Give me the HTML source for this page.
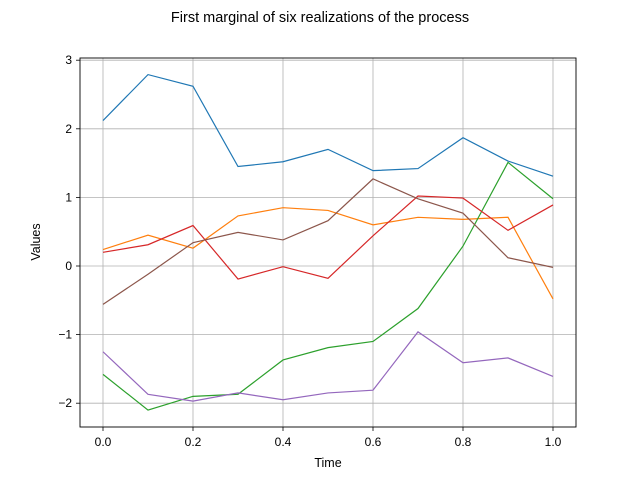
<!DOCTYPE html>
<html><head><meta charset="utf-8"><style>body{margin:0;background:#fff}svg{display:block;font-family:"Liberation Sans",sans-serif}</style></head>
<body>
<svg id="chart" width="640" height="480">
<text x="320" y="22" text-anchor="middle" font-size="14.5">First marginal of six realizations of the process</text>
<g id="grid"></g>
<g id="series"></g>
<rect x="80" y="58" width="496" height="369" fill="none" stroke="#000" stroke-width="0.9"/>
<g id="ticks" font-size="12"></g>
<text x="328" y="467" text-anchor="middle" font-size="12.5">Time</text>
<text x="40" y="242" text-anchor="middle" font-size="12.5" transform="rotate(-90 40 242)">Values</text>
</svg>
<script>
const times=[0,0.1,0.2,0.3,0.4,0.5,0.6,0.7,0.8,0.9,1.0];
const xTicks=[0,0.2,0.4,0.6,0.8,1.0];
const xTickLabels=["0.0","0.2","0.4","0.6","0.8","1.0"];
const yTicks=[-2,-1,0,1,2,3];
const yTickLabels=["\u22122","\u22121","0","1","2","3"];
const s1=[2.12,2.79,2.62,1.45,1.52,1.70,1.39,1.42,1.87,1.53,1.31];
const s2=[0.24,0.45,0.26,0.73,0.85,0.81,0.60,0.71,0.68,0.71,-0.48];
const s3=[-1.58,-2.10,-1.90,-1.87,-1.37,-1.19,-1.10,-0.62,0.29,1.51,0.98];
const s4=[0.20,0.31,0.59,-0.19,-0.01,-0.18,0.44,1.02,0.99,0.52,0.89];
const s5=[-1.25,-1.87,-1.97,-1.85,-1.95,-1.85,-1.81,-0.96,-1.41,-1.34,-1.61];
const s6=[-0.56,-0.12,0.34,0.49,0.38,0.66,1.27,0.98,0.77,0.12,-0.02];
const series=[s1,s2,s3,s4,s5,s6];
const colors=["#1f77b4","#ff7f0e","#2ca02c","#d62728","#9467bd","#8c564b"];
const NS="http://www.w3.org/2000/svg";
const X=t=>103+450*t, Y=v=>266-68.6*v;
const grid=document.getElementById('grid'),tk=document.getElementById('ticks'),sg=document.getElementById('series');
function mk(tag,attrs,parent){const e=document.createElementNS(NS,tag);for(const k in attrs)e.setAttribute(k,attrs[k]);parent.appendChild(e);return e;}
xTicks.forEach((t,i)=>{
 const g=mk('line',{x1:X(t),x2:X(t),y1:58,y2:427,stroke:'#b0b0b0','stroke-width':0.8},grid);
 
 
 mk('line',{x1:X(t),x2:X(t),y1:427,y2:431,stroke:'#000','stroke-width':0.8},tk);
 const l=mk('text',{x:X(t),y:446,'text-anchor':'middle'},tk);l.textContent=xTickLabels[i];
 
 
});
yTicks.forEach((v,i)=>{
 const g=mk('line',{x1:80,x2:576,y1:Y(v),y2:Y(v),stroke:'#b0b0b0','stroke-width':0.8},grid);
 
 
 mk('line',{x1:76,x2:80,y1:Y(v),y2:Y(v),stroke:'#000','stroke-width':0.8},tk);
 const l=mk('text',{x:72,y:Y(v)+4,'text-anchor':'end'},tk);l.textContent=yTickLabels[i];
 
 
});
series.forEach((s,i)=>{
 const p=mk('polyline',{points:s.map((v,j)=>X(times[j])+','+Y(v)).join(' '),fill:'none',stroke:colors[i],'stroke-width':1.2},sg);
 
 
});
</script>
</body></html>
